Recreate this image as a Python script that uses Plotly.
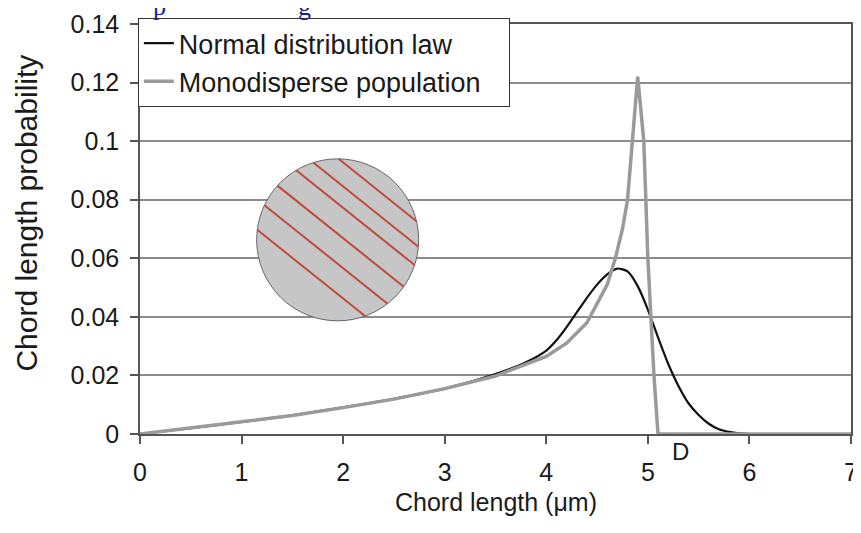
import math
import plotly.graph_objects as go

# chord length (um) / probability
X_NORMAL = [0, 0.5, 1.0, 1.5, 2.0, 2.5, 3.0, 3.5, 3.8, 4.0, 4.1, 4.2, 4.3, 4.4, 4.5,
            4.6, 4.7, 4.8, 4.9, 5.0, 5.1, 5.2, 5.3, 5.4, 5.5, 5.6, 5.7, 5.8, 5.9, 6.0, 6.5, 7.0]
Y_NORMAL = [0, 0.0020, 0.0041, 0.0064, 0.0091, 0.0120, 0.0155, 0.0205, 0.0245, 0.0285, 0.0320,
            0.0365, 0.0415, 0.0465, 0.0510, 0.0545, 0.0565, 0.0555, 0.0505, 0.0425, 0.0330,
            0.0240, 0.0165, 0.0105, 0.0065, 0.0035, 0.0016, 0.0007, 0.0002, 0.0, 0.0, 0.0]

X_MONO = [0, 0.5, 1.0, 1.5, 2.0, 2.5, 3.0, 3.5, 4.0, 4.2, 4.4, 4.53, 4.6, 4.68, 4.75, 4.8,
          4.85, 4.9, 4.96, 4.98, 5.0, 5.03, 5.06, 5.1, 5.2, 7.0]
Y_MONO = [0, 0.0020, 0.0041, 0.0063, 0.0090, 0.0119, 0.0155, 0.0198, 0.0265, 0.0310, 0.0380,
          0.0465, 0.0510, 0.0600, 0.0700, 0.0800, 0.1000, 0.1220, 0.1000, 0.0800, 0.0600,
          0.0400, 0.0200, 0.0, 0.0, 0.0]

X_TICKS = [0, 1, 2, 3, 4, 5, 6, 7]
Y_TICKS = [0, 0.02, 0.04, 0.06, 0.08, 0.1, 0.12, 0.14]
Y_TICK_TEXT = ["0", "0.02", "0.04", "0.06", "0.08", "0.1", "0.12", "0.14"]

# inset sketch: particle section with parallel chords
CIRCLE_CENTER = (1.946, 0.0663)
CIRCLE_R = 81  # px
CHORD_OFFSETS = [-63.8, -45.1, -28.4, -4.7, 18.7, 42.4]  # px from centre

FONT = "Liberation Sans, Arial, sans-serif"
AXIS = "#555555"
PAD = "\u00a0" * 3  # legend box in the original is a bit wider than its text

fig = go.Figure()
fig.add_trace(go.Scatter(
    x=X_NORMAL, y=Y_NORMAL, name="Normal distribution law", mode="lines",
    line=dict(color="#111111", width=2.2, shape="spline", smoothing=0.6),
))
fig.add_trace(go.Scatter(
    x=X_MONO, y=Y_MONO, name="Monodisperse population" + PAD, mode="lines",
    line=dict(color="#9a9a9a", width=3.5),
))

shapes = [dict(
    type="circle", layer="above", xref="x", yref="y",
    xsizemode="pixel", ysizemode="pixel",
    xanchor=CIRCLE_CENTER[0], yanchor=CIRCLE_CENTER[1],
    x0=-CIRCLE_R, x1=CIRCLE_R, y0=-CIRCLE_R, y1=CIRCLE_R,
    fillcolor="#c6c6c6", line=dict(color="#666666", width=1),
)]
# chord direction (screen, y down) and its normal
dx, dy = 0.781, 0.625
nx, ny = -0.625, 0.781
for k in CHORD_OFFSETS:
    h = math.sqrt(CIRCLE_R ** 2 - k ** 2)
    cx, cy = k * nx, k * ny
    shapes.append(dict(
        type="line", layer="above", xref="x", yref="y",
        xsizemode="pixel", ysizemode="pixel",
        xanchor=CIRCLE_CENTER[0], yanchor=CIRCLE_CENTER[1],
        x0=cx - h * dx, x1=cx + h * dx,
        y0=-(cy - h * dy), y1=-(cy + h * dy),
        line=dict(color="#bf4b3c", width=2),
    ))

blue = dict(family="Liberation Serif, serif", size=26, color="#1c1ca0")

# page body has an 8px margin, so the figure is drawn 8px in and down
fig.update_layout(
    width=853, height=525,
    margin=dict(l=132, r=10, t=13, b=99),
    paper_bgcolor="white", plot_bgcolor="white",
    font=dict(family=FONT, color="#1a1a1a", size=25),
    showlegend=True,
    legend=dict(
        x=-0.003, y=1.0145, xanchor="left", yanchor="top",
        bgcolor="white", bordercolor="#333333", borderwidth=1,
        font=dict(size=27, color="#1a1a1a"), itemwidth=30,
    ),
    shapes=shapes,
    annotations=[
        dict(x=5.32, y=-0.0436, xref="x", yref="paper", xanchor="center", yanchor="middle",
             text="D", showarrow=False, font=dict(size=24, color="#1a1a1a")),
        dict(x=0.5, y=-0.166, xref="paper", yref="paper", xanchor="center", yanchor="middle",
             text="Chord length (\u03bcm)", showarrow=False, font=dict(size=25)),
        dict(x=-0.159, y=0.54, xref="paper", yref="paper", xanchor="center", yanchor="middle",
             textangle=-90, text="Chord length probability", showarrow=False,
             font=dict(size=30)),
        dict(x=0.027, y=1.003, xref="paper", yref="paper", xanchor="center", yanchor="bottom",
             text="p", showarrow=False, font=blue),
        dict(x=0.232, y=1.003, xref="paper", yref="paper", xanchor="center", yanchor="bottom",
             text="g", showarrow=False, font=blue),
    ],
)
fig.update_xaxes(
    range=[0, 7], tickvals=X_TICKS, showgrid=False, zeroline=False, automargin=False,
    showline=True, linecolor=AXIS, linewidth=1.5, mirror=True,
    ticks="outside", ticklen=8, tickcolor=AXIS, tickwidth=1.5,
    ticklabelstandoff=7,
)
fig.update_yaxes(
    range=[0, 0.14], tickvals=Y_TICKS, ticktext=Y_TICK_TEXT, automargin=False,
    showgrid=True, gridcolor="#8c8c8c", gridwidth=1.5, zeroline=False,
    showline=True, linecolor=AXIS, linewidth=1.5, mirror=True,
    ticks="outside", ticklen=8, tickcolor=AXIS, tickwidth=1.5,
    ticklabelstandoff=6,
)

fig.write_html("out.html")
